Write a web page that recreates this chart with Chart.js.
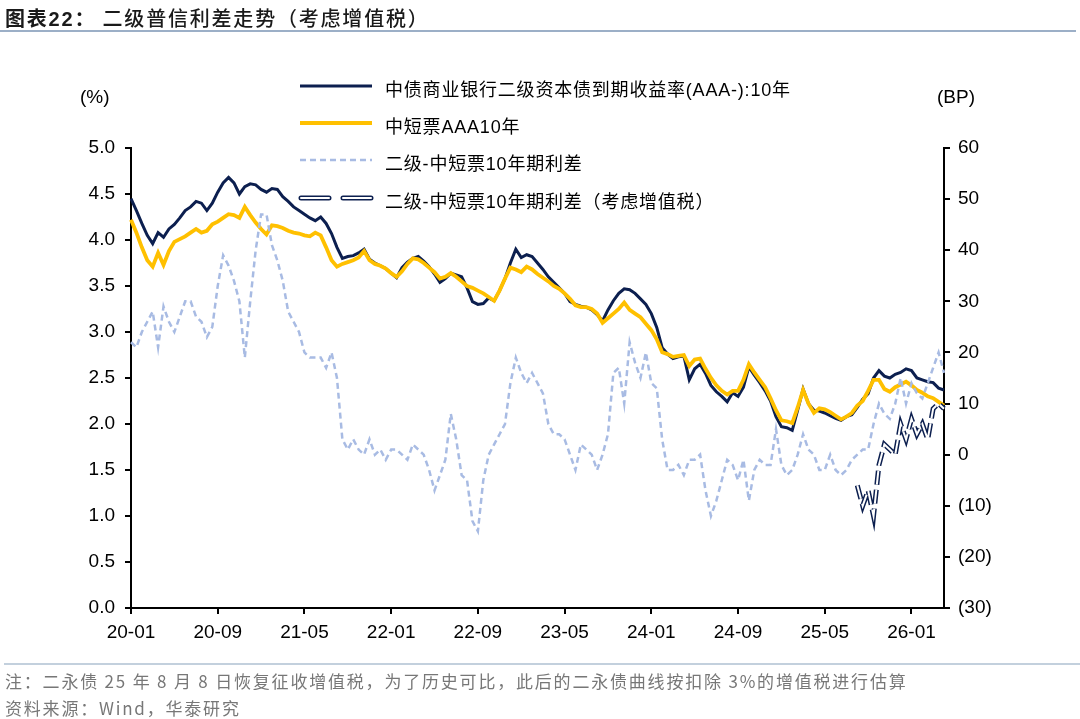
<!DOCTYPE html>
<html>
<head>
<meta charset="utf-8">
<script src="https://cdn.jsdelivr.net/npm/chart.js@4.4.1/dist/chart.umd.min.js"></script>
<style>
  body { margin: 0; background: #fff; font-family: "Liberation Sans", Arial, "Noto Sans CJK SC", sans-serif; }
  #wrap { position: relative; width: 1080px; height: 719px; overflow: hidden; }
  #box { position: absolute; left: 0; top: 0; width: 1080px; height: 719px; }
  .txt { position: absolute; white-space: nowrap; }
  #title { left: 5px; top: 3px; font-size: 20px; letter-spacing: 1.8px; color: #1a1a1a; font-family: "Noto Sans CJK SC", sans-serif; font-weight: 500; }
  #title b { font-family: "Liberation Sans", "Noto Sans CJK SC", sans-serif; font-weight: 700; }
  .hr { position: absolute; left: 0; height: 2px; width: 1076px; }
  .unit { font-size: 19px; color: #000; top: 86px; }
  .legtxt { left: 385px; font-size: 18px; color: #000; font-family: "Liberation Sans", "Noto Sans CJK SC", sans-serif; letter-spacing: 0.8px; }
  .note { left: 5px; font-size: 17px; color: #777; font-family: "Noto Sans CJK SC", sans-serif; letter-spacing: 1.8px; }
</style>
</head>
<body>
<div id="wrap">
  <div id="box"><canvas id="chart"></canvas></div>
  <div class="txt" id="title"><b>图表22：</b> 二级普信利差走势（考虑增值税）</div>
  <div class="hr" style="top:30px;background:#9cafc7;"></div>

  <div class="txt unit" style="left:80px;">(%)</div>
  <div class="txt unit" style="left:937px;">(BP)</div>

  <svg style="position:absolute;left:298px;top:78px;" width="80" height="130">
    <line x1="2" y1="8" x2="74" y2="8" stroke="#0c1f4f" stroke-width="3"/>
    <line x1="2" y1="45" x2="74" y2="45" stroke="#ffc000" stroke-width="4"/>
    <line x1="2" y1="82" x2="74" y2="82" stroke="#a8bbe3" stroke-width="2.5" stroke-dasharray="6 4"/>
    <line x1="3" y1="120" x2="73" y2="120" stroke="#0c1f4f" stroke-width="5" stroke-dasharray="28 14" stroke-linecap="round"/>
    <line x1="3" y1="120" x2="73" y2="120" stroke="#ffffff" stroke-width="2" stroke-dasharray="28 14" stroke-linecap="round"/>
  </svg>
  <div class="txt legtxt" style="top:75px;">中债商业银行二级资本债到期收益率(AAA-):10年</div>
  <div class="txt legtxt" style="top:112px;">中短票AAA10年</div>
  <div class="txt legtxt" style="top:149px;">二级-中短票10年期利差</div>
  <div class="txt legtxt" style="top:187px;">二级-中短票10年期利差（考虑增值税）</div>

  <div class="hr" style="top:663px;left:4px;background:#c3d0dd;"></div>
  <div class="txt note" style="top:668px;">注：二永债 25 年 8 月 8 日恢复征收增值税，为了历史可比，此后的二永债曲线按扣除 3%的增值税进行估算</div>
  <div class="txt note" style="top:695px;">资料来源：Wind，华泰研究</div>
</div>

<script>
// 月份（每月取月初、月中两个点）
const months = [
  "20-01","20-02","20-03","20-04","20-05","20-06","20-07","20-08","20-09","20-10","20-11","20-12",
  "21-01","21-02","21-03","21-04","21-05","21-06","21-07","21-08","21-09","21-10","21-11","21-12",
  "22-01","22-02","22-03","22-04","22-05","22-06","22-07","22-08","22-09","22-10","22-11","22-12",
  "23-01","23-02","23-03","23-04","23-05","23-06","23-07","23-08","23-09","23-10","23-11","23-12",
  "24-01","24-02","24-03","24-04","24-05","24-06","24-07","24-08","24-09","24-10","24-11","24-12",
  "25-01","25-02","25-03","25-04","25-05","25-06","25-07","25-08","25-09","25-10","25-11","25-12",
  "26-01","26-02","26-03"
];
const lastLabel = "26-04";

// 中债商业银行二级资本债到期收益率(AAA-):10年 (%)
const tier2Yield = [
  4.45,4.32,4.18,4.05,3.96,4.08,4.03,4.12,4.17,4.24,4.32,4.36,4.42,4.40,4.32,4.40,
  4.52,4.62,4.68,4.62,4.50,4.58,4.61,4.60,4.55,4.52,4.56,4.55,4.47,4.42,4.36,4.32,
  4.28,4.24,4.21,4.25,4.18,4.07,3.92,3.80,3.82,3.83,3.86,3.90,3.79,3.75,3.72,3.69,
  3.64,3.59,3.70,3.76,3.80,3.82,3.77,3.71,3.63,3.54,3.58,3.64,3.62,3.60,3.48,3.33,
  3.30,3.31,3.37,3.34,3.45,3.58,3.75,3.90,3.81,3.84,3.82,3.75,3.68,3.60,3.54,3.48,
  3.42,3.33,3.30,3.28,3.27,3.24,3.19,3.12,3.24,3.34,3.42,3.47,3.46,3.42,3.36,3.30,
  3.20,3.05,2.83,2.76,2.71,2.73,2.74,2.48,2.60,2.65,2.55,2.42,2.35,2.30,2.24,2.34,
  2.30,2.40,2.62,2.53,2.45,2.36,2.25,2.08,1.97,1.96,1.93,2.15,2.38,2.22,2.15,2.14,
  2.12,2.09,2.06,2.04,2.08,2.10,2.18,2.27,2.33,2.50,2.58,2.52,2.50,2.54,2.56,2.60,
  2.58,2.50,2.48,2.46,2.45,2.39,2.37
];

// 中短票AAA10年 (%)
const mtnYield = [
  4.22,4.08,3.92,3.78,3.71,3.86,3.73,3.88,3.98,4.01,4.04,4.08,4.12,4.08,4.10,4.17,
  4.20,4.24,4.28,4.27,4.24,4.36,4.27,4.19,4.12,4.06,4.16,4.15,4.13,4.10,4.08,4.07,
  4.05,4.04,4.08,4.05,3.92,3.78,3.71,3.74,3.76,3.78,3.81,3.88,3.78,3.74,3.72,3.69,
  3.64,3.60,3.66,3.74,3.80,3.79,3.75,3.70,3.65,3.58,3.60,3.64,3.60,3.55,3.50,3.48,
  3.45,3.42,3.38,3.34,3.45,3.58,3.70,3.68,3.65,3.71,3.68,3.63,3.59,3.55,3.50,3.47,
  3.42,3.36,3.29,3.27,3.27,3.25,3.20,3.10,3.15,3.20,3.25,3.32,3.24,3.20,3.16,3.09,
  3.02,2.92,2.78,2.76,2.73,2.74,2.75,2.63,2.70,2.71,2.60,2.50,2.42,2.36,2.32,2.36,
  2.36,2.48,2.65,2.56,2.48,2.40,2.28,2.15,2.04,2.03,2.01,2.18,2.37,2.22,2.12,2.17,
  2.16,2.13,2.09,2.05,2.08,2.12,2.20,2.25,2.36,2.48,2.48,2.38,2.35,2.40,2.43,2.46,
  2.42,2.37,2.34,2.30,2.28,2.24,2.20
];

// 二级-中短票10年期利差 (BP)
const spreadBP = [
  22,21,24,26,28,21,29,26,24,27,30,30,27,26,23,25,
  33,39,37,34,30,19,30,40,47,47,41,38,34,28,26,24,
  20,19,19,19,17,20,15,3,1,3,1,0,3,0,1,-1,
  1,1,0,-1,2,1,0,-3,-7,-4,-1,8,3,-4,-5,-13,
  -15,-5,0,2,4,6,14,19,16,14,16,14,12,6,4,4,
  3,0,-3,2,1,0,-3,0,4,16,17,10,22,18,15,20,
  14,13,3,-3,-3,-2,-4,-1,-1,0,-7,-12,-9,-5,-1,-2,
  -5,-1,-9,-3,-1,-2,-2,5,-2,-4,-3,0,4,1,0,-3,
  -3,0,-3,-4,-3,-1,0,1,1,6,10,8,7,10,15,10,
  14,12,11,14,17,20,16
];

// 二级-中短票10年期利差（考虑增值税）(BP)，25年8月起
const vatStart = 134;
const spreadVatBP = [-6,-10,-7,-12,-2,2,1,0,6,3,7,4,6,3,9,10,9];

const yLeftTicks = [0, 5, 0.5];
const yRightTicks = [-30, 60, 10];

// 构造类别（每月两个点）
const categories = [];
months.forEach((m) => { categories.push(m); categories.push(m + "-16"); });
categories.push(lastLabel);

const vatData = new Array(vatStart).fill(null).concat(spreadVatBP);

const tickFont = { family: "'Liberation Sans', Arial, sans-serif", size: 19 };

// order 越大越先画（在下层）
new Chart(document.getElementById("chart"), {
  type: "line",
  data: {
    labels: categories,
    datasets: [
      { label: "二级", data: tier2Yield, yAxisID: "y", borderColor: "#0c1f4f", borderWidth: 3, pointRadius: 0, order: 5 },
      { label: "中短票", data: mtnYield, yAxisID: "y", borderColor: "#ffc000", borderWidth: 3.8, pointRadius: 0, order: 4 },
      { label: "利差", data: spreadBP, yAxisID: "y1", borderColor: "#a8bbe3", borderWidth: 2.5, borderDash: [6, 4], pointRadius: 0, order: 3 },
      { label: "利差增值税", data: vatData, yAxisID: "y1", borderColor: "#0c1f4f", borderWidth: 5, borderDash: [14, 5], pointRadius: 0, order: 2 },
      { label: "利差增值税2", data: vatData, yAxisID: "y1", borderColor: "#ffffff", borderWidth: 2, borderDash: [14, 5], pointRadius: 0, order: 1 },
    ],
  },
  options: {
    responsive: true,
    maintainAspectRatio: false,
    animation: false,
    layout: { padding: { top: 148, left: 0, right: 0, bottom: 0 } },
    plugins: { legend: { display: false }, tooltip: { enabled: false } },
    elements: { line: { tension: 0 } },
    scales: {
      x: {
        type: "category",
        offset: false,
        grid: { drawOnChartArea: false, drawTicks: true, tickLength: 6, color: "#000", lineWidth: 2 },
        border: { color: "#000", width: 2 },
        ticks: {
          autoSkip: false, maxRotation: 0, padding: 7, color: "#000", font: tickFont,
          callback: function (value) { return this.getLabelForValue(value); },
        },
        afterBuildTicks: (scale) => { scale.ticks = scale.ticks.filter((t) => t.value % 16 === 0); },
        afterFit: (scale) => { scale.height = 111; },
      },
      y: {
        position: "left",
        min: yLeftTicks[0], max: yLeftTicks[1],
        grid: { drawOnChartArea: false, drawTicks: true, tickLength: 6, color: "#000", lineWidth: 2 },
        border: { color: "#000", width: 2 },
        ticks: { stepSize: yLeftTicks[2], padding: 10, color: "#000", font: tickFont, callback: (v) => v.toFixed(1) },
        afterFit: (scale) => { scale.width = 131; },
      },
      y1: {
        position: "right",
        min: yRightTicks[0], max: yRightTicks[1],
        grid: { drawOnChartArea: false, drawTicks: true, tickLength: 6, color: "#000", lineWidth: 2 },
        border: { color: "#000", width: 2 },
        ticks: { stepSize: yRightTicks[2], padding: 8, color: "#000", font: tickFont, callback: (v) => (v < 0 ? "(" + Math.abs(v) + ")" : String(v)) },
        afterFit: (scale) => { scale.width = 136; },
      },
    },
  },
});
</script>
</body>
</html>
